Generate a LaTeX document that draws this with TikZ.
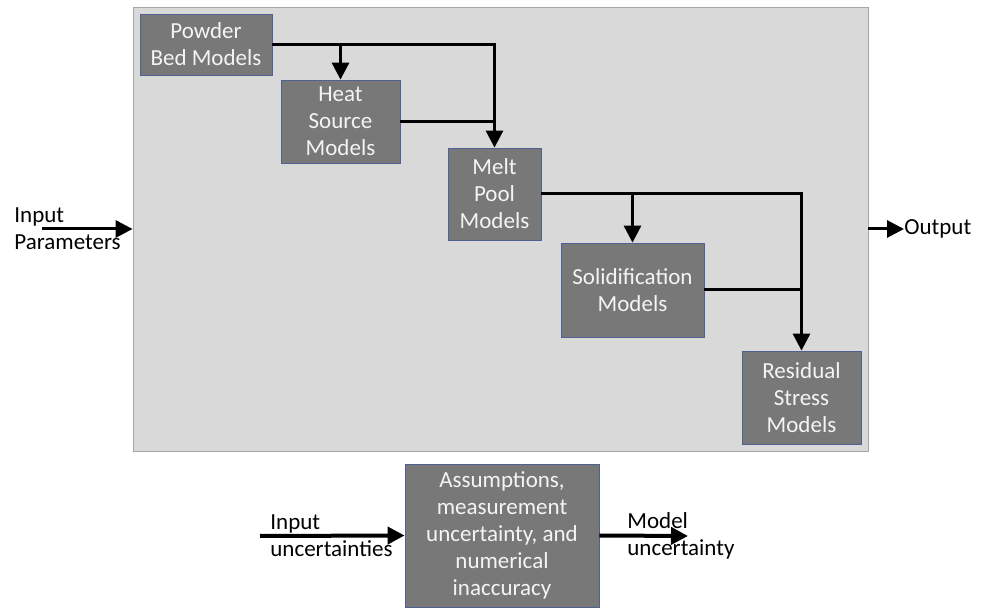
\documentclass[tikz,border=0pt]{standalone}
\usepackage{fontspec}
\setmainfont{Carlito}
\usetikzlibrary{arrows.meta,positioning}
\definecolor{panel}{HTML}{D9D9D9}
\definecolor{panelEdge}{HTML}{A6A6A6}
\definecolor{modelFill}{HTML}{787878}
\definecolor{modelEdge}{HTML}{4F6294}
\definecolor{modelText}{HTML}{F4F4F4}

\begin{document}
\begin{tikzpicture}[
  x=0.5pt, y=-0.5pt,
  font=\fontsize{11.5}{13.5}\selectfont,
  modelbox/.style={draw=modelEdge, fill=modelFill, text=modelText, thin,
    align=center, inner sep=0pt},
  label/.style={align=left, anchor=west, inner sep=0pt},
  flow/.style={-{Triangle[length=8.5pt,width=8.5pt]}, line width=1.5pt, draw=black},
  feed/.style={line width=1.5pt, draw=black}
]
  \useasboundingbox (0,0) rectangle (981,608);

  % simulation chain
  \node[draw=panelEdge, fill=panel, minimum width=367.5pt, minimum height=222pt,
    inner sep=0pt] (frame) at (500.5,229) {};
  \node[modelbox, minimum width=66pt, minimum height=30.5pt] (powder) at (206,44.5) {Powder\\Bed Models};
  \node[modelbox, minimum width=59.5pt, minimum height=41.5pt] (heat) at (340.5,121.5) {Heat\\Source\\Models};
  \node[modelbox, minimum width=46.5pt, minimum height=46pt] (melt) at (494.5,194) {Melt\\Pool\\Models};
  \node[modelbox, minimum width=71.5pt, minimum height=47pt] (solid) at (632.5,290) {Solidification\\Models};
  \node[modelbox, minimum width=59.5pt, minimum height=46.5pt] (stress) at (801.5,397.5) {Residual\\Stress\\Models};

  \draw[flow] (powder.east) -| (melt.north);
  \draw[flow] (powder.east -| heat.north) -- (heat.north);
  \draw[feed] (heat.east) -- (heat.east -| melt.north);
  \draw[flow] (melt.east) -| (stress.north);
  \draw[flow] (melt.east -| solid.north) -- (solid.north);
  \draw[feed] (solid.east) -- (solid.east -| stress.north);

  \node[label] (params) at (14,229) {Input\\Parameters};
  \coordinate (inStart) at (42,229);
  \draw[flow] (inStart) -- (frame.west);
  \node[label] (output) at (904,229) {Output};
  \draw[flow] (frame.east) -- (output.west);

  % uncertainty
  \node[modelbox, minimum width=97pt, minimum height=71.5pt] (error) at (502,535.5)
    {Assumptions,\\measurement\\uncertainty, and\\numerical\\inaccuracy};
  \node[label] (inUnc) at (270,536) {Input\\uncertainties};
  \coordinate (uncStart) at (260,536);
  \draw[flow, line width=2pt] (uncStart) -- (error.west);
  \node[label] (outUnc) at (627,536) {Model\\uncertainty};
  \coordinate (uncEnd) at (688,536);
  \draw[flow, line width=2pt] (error.east) -- (uncEnd);
\end{tikzpicture}
\end{document}
